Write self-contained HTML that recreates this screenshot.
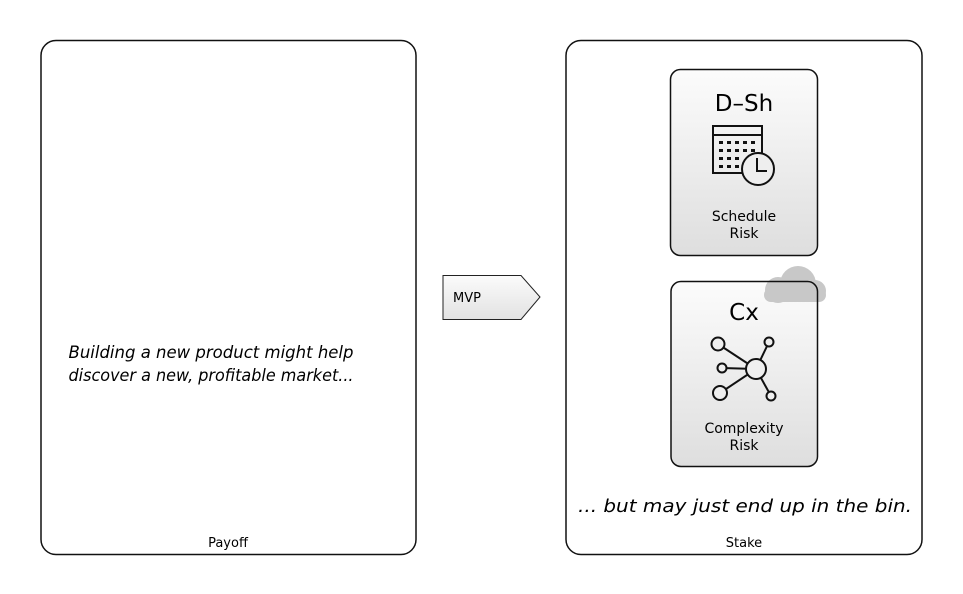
<!DOCTYPE html>
<html><head><meta charset="utf-8"><style>html,body{margin:0;padding:0;background:#fff}svg{display:block}</style></head>
<body>
<svg width="963" height="594" viewBox="0 0 963 594" xmlns="http://www.w3.org/2000/svg" font-family="'DejaVu Sans','Liberation Sans',sans-serif">
<defs>
<linearGradient id="g" x1="0" y1="0" x2="0" y2="1"><stop offset="0" stop-color="#fcfcfc"/><stop offset="1" stop-color="#dedede"/></linearGradient>
<linearGradient id="g2" x1="0" y1="0" x2="0" y2="1"><stop offset="0" stop-color="#fbfbfb"/><stop offset="1" stop-color="#e2e2e2"/></linearGradient>
</defs>
<rect x="41" y="40.5" width="375" height="514" rx="15" fill="#fff" stroke="#111" stroke-width="1.5"/>
<rect x="566" y="40.5" width="356" height="514" rx="15" fill="#fff" stroke="#111" stroke-width="1.5"/>
<text x="211" y="358" font-size="17" font-style="italic" text-anchor="middle" textLength="285" lengthAdjust="spacingAndGlyphs">Building a new product might help</text>
<text x="211" y="381" font-size="17" font-style="italic" text-anchor="middle" textLength="285" lengthAdjust="spacingAndGlyphs">discover a new, profitable market...</text>
<text x="228" y="547" font-size="13" text-anchor="middle">Payoff</text>
<text x="745" y="512" font-size="18" font-style="italic" text-anchor="middle" textLength="334" lengthAdjust="spacingAndGlyphs">... but may just end up in the bin.</text>
<text x="744" y="547" font-size="13" text-anchor="middle">Stake</text>
<!-- MVP -->
<path d="M443 275.5 H521 L540 297 L521 319.5 H443 Z" fill="url(#g2)" stroke="#222" stroke-width="1"/>
<text x="453" y="302" font-size="13">MVP</text>
<!-- card 1 -->
<rect x="670.5" y="69.5" width="147" height="186" rx="10" fill="url(#g)" stroke="#111" stroke-width="1.5"/>
<text x="744" y="111" font-size="23" text-anchor="middle">D–Sh</text>
<g fill="none" stroke="#111" stroke-width="2">
<path d="M742 173 H713 V126 H762 V154"/>
<line x1="713" y1="135" x2="762" y2="135"/>
<circle cx="758" cy="169" r="16" fill="#eee"/>
<path d="M757 158 V171 H767"/>
</g>
<g fill="#111">
<rect x="719" y="141" width="4" height="3"/><rect x="727" y="141" width="4" height="3"/><rect x="735" y="141" width="4" height="3"/><rect x="743" y="141" width="4" height="3"/><rect x="751" y="141" width="4" height="3"/>
<rect x="719" y="149" width="4" height="3"/><rect x="727" y="149" width="4" height="3"/><rect x="735" y="149" width="4" height="3"/><rect x="743" y="149" width="4" height="3"/><rect x="751" y="149" width="4" height="3"/>
<rect x="719" y="157" width="4" height="3"/><rect x="727" y="157" width="4" height="3"/><rect x="735" y="157" width="4" height="3"/>
<rect x="719" y="165" width="4" height="3"/><rect x="727" y="165" width="4" height="3"/><rect x="735" y="165" width="4" height="3"/>
</g>
<text x="744" y="221" font-size="14" text-anchor="middle">Schedule</text>
<text x="744" y="238" font-size="14" text-anchor="middle">Risk</text>
<!-- card 2 -->
<rect x="671" y="281.5" width="146.5" height="185" rx="10" fill="url(#g)"/>
<g fill="#c8c8c8"><circle cx="798" cy="284" r="18"/><circle cx="778" cy="290" r="13"/><circle cx="815" cy="291" r="11"/><rect x="764" y="288" width="62" height="14" rx="7"/></g>
<rect x="671" y="281.5" width="146.5" height="185" rx="10" fill="none" stroke="#111" stroke-width="1.5"/>
<text x="744" y="320" font-size="23" text-anchor="middle">Cx</text>
<g fill="none" stroke="#111" stroke-width="2">
<line x1="718" y1="344" x2="756" y2="369"/><line x1="769" y1="342" x2="756" y2="369"/><line x1="722" y1="368" x2="756" y2="369"/><line x1="720" y1="393" x2="756" y2="369"/><line x1="771" y1="396" x2="756" y2="369"/>
</g>
<g fill="#efefef" stroke="#111" stroke-width="2">
<circle cx="756" cy="369" r="10"/><circle cx="718" cy="344" r="6.5"/><circle cx="769" cy="342" r="4.5"/><circle cx="722" cy="368" r="4.5"/><circle cx="720" cy="393" r="7"/><circle cx="771" cy="396" r="4.5"/>
</g>
<text x="744" y="433" font-size="14" text-anchor="middle">Complexity</text>
<text x="744" y="450" font-size="14" text-anchor="middle">Risk</text>
</svg>
</body></html>
